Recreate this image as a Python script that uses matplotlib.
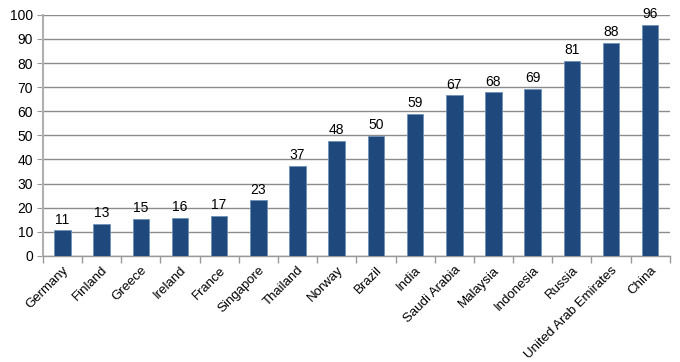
import matplotlib
matplotlib.use("Agg")
import matplotlib.pyplot as plt
import numpy as np

countries = ["Germany", "Finland", "Greece", "Ireland", "France", "Singapore",
             "Thailand", "Norway", "Brazil", "India", "Saudi Arabia", "Malaysia",
             "Indonesia", "Russia", "United Arab Emirates", "China"]
values = [10.6, 13.2, 15.3, 15.7, 16.6, 23.0, 37.3, 47.6, 49.8, 58.8, 66.6, 67.8,
          69.2, 80.8, 88.2, 95.8]
yticks = [0, 10, 20, 30, 40, 50, 60, 70, 80, 90, 100]

plt.rcParams['font.family'] = ['Liberation Sans', 'DejaVu Sans']
fig = plt.figure(figsize=(6.8, 3.62), dpi=100)
ax = fig.add_axes([0.063, 0.293, 0.922, 0.666])

x = np.arange(len(countries))
ax.bar(x, values, width=0.42, color='#1F497D', edgecolor='#7090b8', linewidth=0.6, zorder=3)
for xi, v in zip(x, values):
    ax.text(xi, v + 1.6, f"{v:.0f}", ha='center', va='bottom', fontsize=10, color='black', zorder=4)

ax.set_xlim(-0.5, len(countries) - 0.5)
ax.set_ylim(0, 100)
ax.set_yticks(yticks)
ax.tick_params(axis='y', labelsize=10, length=4, color='#999999', pad=3)
ax.yaxis.grid(True, color='#8c8c8c', linewidth=1, zorder=0)
ax.set_axisbelow(True)

ax.set_xticks(x)
ax.set_xticklabels(countries, rotation=45, ha='right', rotation_mode='anchor', fontsize=9.5)
ax.tick_params(axis='x', length=0, pad=6)
ax.set_xticks(np.arange(-0.5, len(countries)), minor=True)
ax.tick_params(axis='x', which='minor', length=5, color='#999999', width=1)

for s in ['top', 'right']:
    ax.spines[s].set_visible(False)
ax.spines['left'].set_color('#b0b0b0')
ax.spines['left'].set_linewidth(1.5)
ax.spines['bottom'].set_color('#999999')
ax.spines['bottom'].set_linewidth(1)

fig.savefig("out.png", dpi=100)
